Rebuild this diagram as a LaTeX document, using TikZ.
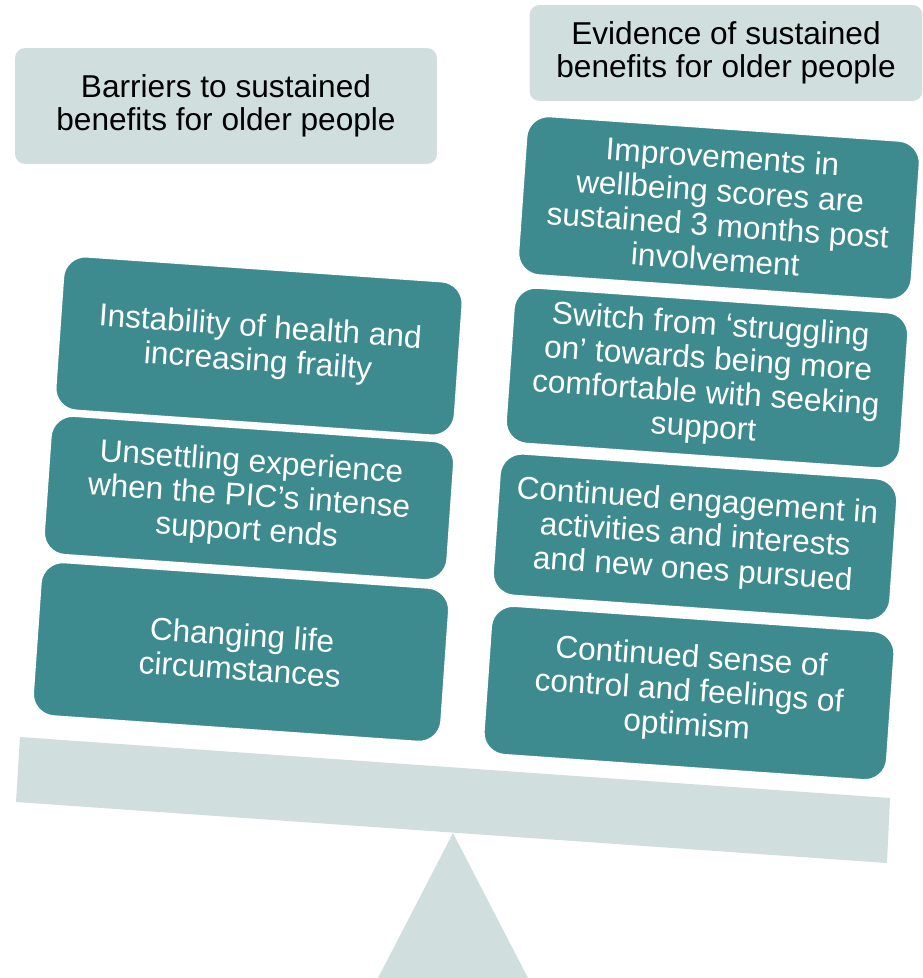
\documentclass[tikz,border=0pt]{standalone}
\usepackage{fontspec}
\setmainfont{Liberation Sans}
\usepackage{xcolor}
\usepackage{tikz}

\definecolor{boxteal}{RGB}{62,139,143}
\definecolor{palegrey}{RGB}{208,223,222}

\begin{document}
\begin{tikzpicture}[x=0.02cm,y=-0.02cm,
    header/.style={fill=palegrey, rounded corners=0.2cm, align=center,
        inner sep=0pt, font=\fontsize{18}{19}\selectfont},
    weight/.style={fill=boxteal, draw=white, line width=1.5pt,
        rounded corners=0.45cm, rotate=-4, align=center, inner sep=0pt,
        text=white, font=\fontsize{18}{19.5}\selectfont}]
\useasboundingbox (0,0) rectangle (923,978);

% the balance
\begin{scope}
    \coordinate (B1) at (20,737);
    \coordinate (B2) at (890,798);
    \coordinate (B3) at (887,863);
    \coordinate (B4) at (16,802);
    \coordinate (T) at (453,833);
    \coordinate (TL) at (378,978);
    \coordinate (TR) at (528,978);
    \fill[palegrey] (B1) -- (B2) -- (B3) -- (B4) -- cycle;
    \fill[palegrey] (T) -- (TR) -- (TL) -- cycle;
\end{scope}

% headings
\node[header, minimum width=8.44cm, minimum height=2.32cm] (barriers) at (226,106)
    {Barriers to sustained\\benefits for older people};
\node[header, minimum width=7.86cm, minimum height=1.92cm] (evidence) at (726,53)
    {Evidence of sustained\\benefits for older people};

% left pile
\node[weight, minimum width=8.02cm, minimum height=3.10cm] (health) at (259,346)
    {Instability of health and\\increasing frailty};
\node[weight, minimum width=8.10cm, minimum height=2.80cm] (unsettling) at (249,498)
    {Unsettling experience\\when the PIC’s intense\\support ends};
\node[weight, minimum width=8.20cm, minimum height=3.10cm] (life) at (241,652)
    {Changing life\\circumstances};

% right pile
\node[weight, minimum width=7.90cm, minimum height=3.20cm] (wellbeing) at (719,208)
    {Improvements in\\wellbeing scores are\\sustained 3 months post\\involvement};
\node[weight, minimum width=7.92cm, minimum height=3.14cm] (switch) at (707,378)
    {Switch from ‘struggling\\on’ towards being more\\comfortable with seeking\\support};
\node[weight, minimum width=7.98cm, minimum height=2.86cm] (engagement) at (695,537)
    {Continued engagement in\\activities and interests\\and new ones pursued};
\node[weight, minimum width=8.10cm, minimum height=3.00cm] (control) at (689,693)
    {Continued sense of\\control and feelings of\\optimism};
\end{tikzpicture}
\end{document}
